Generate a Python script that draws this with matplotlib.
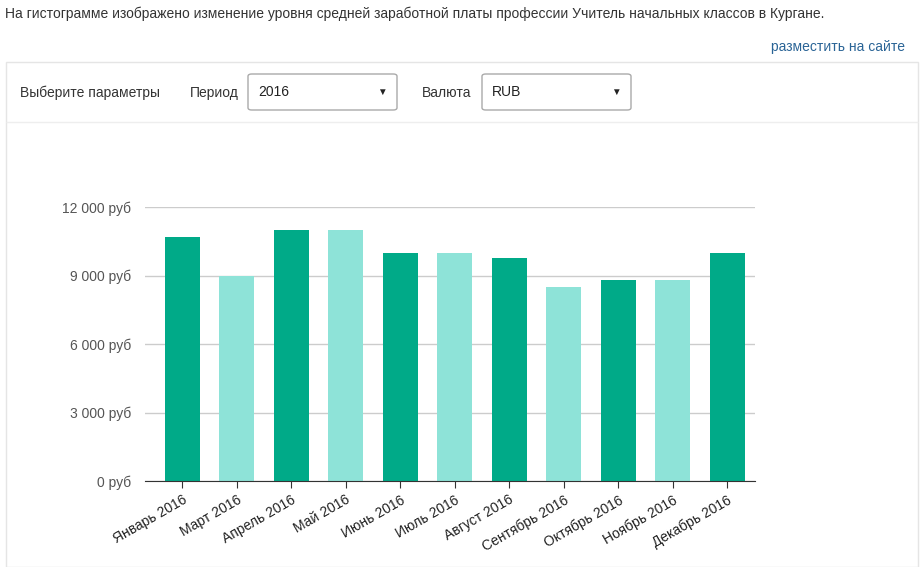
import matplotlib.pyplot as plt
from matplotlib.patches import Rectangle, FancyBboxPatch

months = ["Январь 2016", "Март 2016", "Апрель 2016", "Май 2016", "Июнь 2016", "Июль 2016",
          "Август 2016", "Сентябрь 2016", "Октябрь 2016", "Ноябрь 2016", "Декабрь 2016"]
salary = [10700, 9000, 11000, 11000, 10000, 10000, 9770, 8500, 8800, 8800, 10000]
yticks = [0, 3000, 6000, 9000, 12000]
ylabels = ["0 руб", "3 000 руб", "6 000 руб", "9 000 руб", "12 000 руб"]

W, H = 924, 567
fig = plt.figure(figsize=(W / 100, H / 100), dpi=100)
plt.rcParams['font.family'] = ['Arial', 'Liberation Sans', 'DejaVu Sans']

def fx(x): return x / W
def fy(y): return 1 - y / H

fig.text(fx(5), fy(14), "На гистограмме изображено изменение уровня средней заработной платы профессии Учитель начальных классов в Кургане.",
         fontsize=10, color="#333333", va="center")
fig.text(fx(905), fy(47), "разместить на сайте", fontsize=10, color="#2a6496", va="center", ha="right")

# panel
fig.patches.append(Rectangle((fx(6), fy(567)), fx(912), fy(62) - fy(567), transform=fig.transFigure,
                             fill=False, edgecolor="#e5e5e5", lw=1))
fig.patches.append(Rectangle((fx(6), fy(122)), fx(912), 0, transform=fig.transFigure,
                             fill=False, edgecolor="#eeeeee", lw=1))
fig.text(fx(20), fy(93), "Выберите параметры", fontsize=10, color="#333333", va="center")
fig.text(fx(190), fy(93), "Период", fontsize=10, color="#333333", va="center")
fig.text(fx(422), fy(93), "Валюта", fontsize=10, color="#333333", va="center")
for x0, x1, label in [(248, 397, "2016"), (482, 631, "RUB")]:
    fig.patches.append(FancyBboxPatch((fx(x0), fy(110)), fx(x1 - x0), fy(74) - fy(110),
                                      boxstyle="round,pad=0,rounding_size=0.004",
                                      transform=fig.transFigure, facecolor="white",
                                      edgecolor="#aaaaaa", lw=1))
    fig.text(fx(x0 + 10), fy(92), label, fontsize=10, color="#222222", va="center")
    fig.text(fx(x1 - 10), fy(92), "▼", fontsize=7, color="#222222", va="center", ha="right")

ax = fig.add_axes([fx(145), fy(481), fx(755 - 145), fy(207) - fy(481)])
colors = ["#00aa88" if i % 2 == 0 else "#8ee3d8" for i in range(len(months))]
x = range(len(months))
ax.bar(x, salary, width=0.64, color=colors, zorder=2)
ax.set_xlim(-0.68, len(months) - 0.49)
ax.set_ylim(0, 12000)
ax.set_yticks(yticks)
ax.set_yticklabels(ylabels, fontsize=10, color="#555555")
ax.set_xticks(list(x))
ax.set_xticklabels(months, rotation=30, ha="right", rotation_mode="anchor", fontsize=10, color="#222222")
ax.grid(axis="y", color="#cccccc", lw=1, zorder=0)
for s in ["top", "right", "left"]:
    ax.spines[s].set_visible(False)
ax.spines["bottom"].set_color("#333333")
ax.tick_params(axis="y", length=0, pad=10)
ax.tick_params(axis="x", length=5, color="#333333")

fig.savefig("out.png", dpi=100)
